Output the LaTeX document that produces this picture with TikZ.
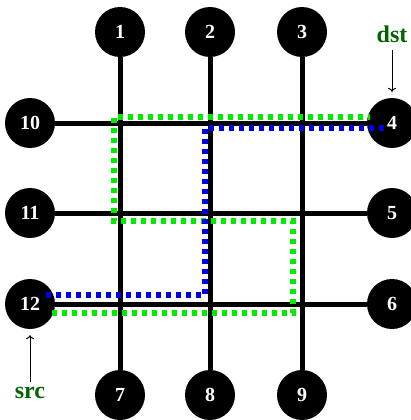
\documentclass[tikz,border=0pt]{standalone}
\usepackage{fontspec}
\setmainfont{Liberation Serif}
\usetikzlibrary{positioning,arrows.meta}
\definecolor{gdot}{RGB}{0,235,0}
\definecolor{bdot}{RGB}{0,0,230}
\definecolor{lbl}{RGB}{0,100,0}

\begin{document}
\begin{tikzpicture}[x=1pt,y=-1pt,knode/.style={circle,fill=black,minimum size=50pt,inner sep=0pt,text=white,font=\fontsize{20}{20}\selectfont\bfseries}, wire/.style={line width=5pt}, gpath/.style={gdot,line width=5.5pt,dash pattern=on 5pt off 5pt}, bpath/.style={bdot,line width=5.5pt,dash pattern=on 5pt off 5pt}, tag/.style={text=lbl,inner sep=0pt,font=\fontsize{24}{24}\selectfont\bfseries}]
	\useasboundingbox (0,0) rectangle (410,420);
	
	\node[knode] (1) at (120,32) {1};
	\node[knode] (2) at (210,32) {2};
	\node[knode] (3) at (302,32) {3};
	
	\node[knode] (4) at (392,123) {4};
	\node[knode] (5) at (392,213) {5};
	\node[knode] (6) at (392,304) {6};
	
	\node[knode] (7) at (120,395) {7};
	\node[knode] (8) at (210,395) {8};
	\node[knode] (9) at (302,395) {9};
	
	\node[knode] (10) at (30,123) {10};
	\node[knode] (11) at (30,213) {11};
	\node[knode] (12) at (30,304) {12};
	
	\draw[wire] (1) -- (7);
	\draw[wire] (2) -- (8);
	\draw[wire] (3) -- (9);
	\draw[wire] (10) -- (4);
	\draw[wire] (11) -- (5);
	\draw[wire] (12) -- (6);
	
	% routes from src to dst
	\draw[gpath] (52,313) -- (293,313) -- (293,221) -- (114,221) -- (114,117) -- (370,117);
	\draw[bpath] (46,295) -- (205,295) -- (205,128) -- (388,128);
	
	\node[tag] (dst) at (392,34) {dst};
	\node[tag] (src) at (30,393) {src};
	\draw[-{To[length=4pt,width=8pt]},line width=1pt,shorten <=7pt,shorten >=6pt] (dst) -- (4);
	\draw[-{To[length=4pt,width=8pt]},line width=1pt,shorten <=5pt,shorten >=6pt] (src) -- (12);
	
	\end{tikzpicture}
\end{document}
